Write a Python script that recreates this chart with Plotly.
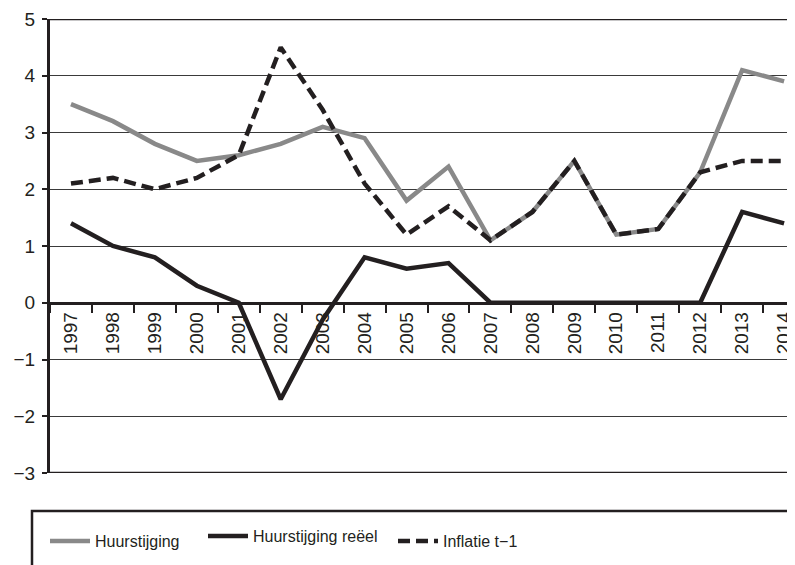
import plotly.graph_objects as go

years = [str(y) for y in range(1997, 2015)]
huurstijging = [3.5, 3.2, 2.8, 2.5, 2.6, 2.8, 3.1, 2.9, 1.8, 2.4, 1.1, 1.6, 2.5, 1.2, 1.3, 2.3, 4.1, 3.9]
huur_reeel = [1.4, 1.0, 0.8, 0.3, 0.0, -1.7, -0.3, 0.8, 0.6, 0.7, 0.0, 0.0, 0.0, 0.0, 0.0, 0.0, 1.6, 1.4]
inflatie = [2.1, 2.2, 2.0, 2.2, 2.6, 4.5, 3.4, 2.1, 1.2, 1.7, 1.1, 1.6, 2.5, 1.2, 1.3, 2.3, 2.5, 2.5]
y_ticks = [-3, -2, -1, 0, 1, 2, 3, 4, 5]

BLACK = "#231f20"
GRAY = "#898989"
REG = "Liberation Sans, Arial, sans-serif"

OFF = 8  # page body margin
W, H = 795 - OFF, 565 - OFF
L, R, T, B = 50 - OFF, 0, 19 - OFF, 92
PW, PH = W - L - R, H - T - B

def px_x(px):
    return (px - OFF - L) / PW

def px_y(py):
    return (H - B - (py - OFF)) / PH

fig = go.Figure()
fig.add_trace(go.Scatter(x=years, y=huurstijging, mode="lines", name="Huurstijging",
                         line=dict(color=GRAY, width=4.5), legend="legend"))
fig.add_trace(go.Scatter(x=years, y=huur_reeel, mode="lines", name="Huurstijging reëel",
                         line=dict(color=BLACK, width=4.5), legend="legend2"))
fig.add_trace(go.Scatter(x=years, y=inflatie, mode="lines", name="Inflatie t−1",
                         line=dict(color=BLACK, width=4.5, dash="12px,6px"), legend="legend3"))

leg_common = dict(orientation="h", yanchor="middle", xanchor="left",
                  bgcolor="rgba(0,0,0,0)", borderwidth=0,
                  font=dict(family=REG, size=16, color=BLACK), itemwidth=40)

fig.update_layout(
    width=W, height=H,
    showlegend=True,
    margin=dict(l=L, r=R, t=T, b=B, autoexpand=False),
    paper_bgcolor="white", plot_bgcolor="white",
    font=dict(family=REG, color=BLACK),
    xaxis=dict(type="category", range=[-0.5, 17.26], anchor="free", position=3 / 8,
               showline=True, linecolor=BLACK, linewidth=2.5,
               ticks="outside", tickson="boundaries", ticklen=8, tickwidth=1.5, tickcolor=BLACK,
               tickangle=-90, tickfont=dict(family=REG, size=19, color=BLACK),
               showgrid=False, zeroline=False),
    yaxis=dict(range=[-3, 5], tickvals=y_ticks, showgrid=True, gridcolor="#3a3a3a", gridwidth=1.2,
               zeroline=False, showline=True, linecolor=BLACK, linewidth=3,
               ticks="outside", ticklen=5, tickwidth=1.5, tickcolor=BLACK,
               tickfont=dict(family=REG, size=19, color=BLACK), ticklabelstandoff=3),
    legend=dict(x=px_x(45), y=px_y(541), **leg_common),
    legend2=dict(x=px_x(203), y=px_y(536), **leg_common),
    legend3=dict(x=px_x(393), y=px_y(541), **leg_common),
    shapes=[
        dict(type="line", xref="paper", yref="y", x0=0, x1=1, y0=5, y1=5,
             line=dict(color=BLACK, width=2.5)),
        dict(type="line", xref="paper", yref="y", x0=0, x1=1, y0=-3, y1=-3,
             line=dict(color=BLACK, width=2.5)),
        dict(type="rect", xref="paper", yref="paper", x0=px_x(32), x1=px_x(820),
             y0=px_y(600), y1=px_y(511), line=dict(color=BLACK, width=2.5)),
    ],
)

fig.write_html("out.html")
